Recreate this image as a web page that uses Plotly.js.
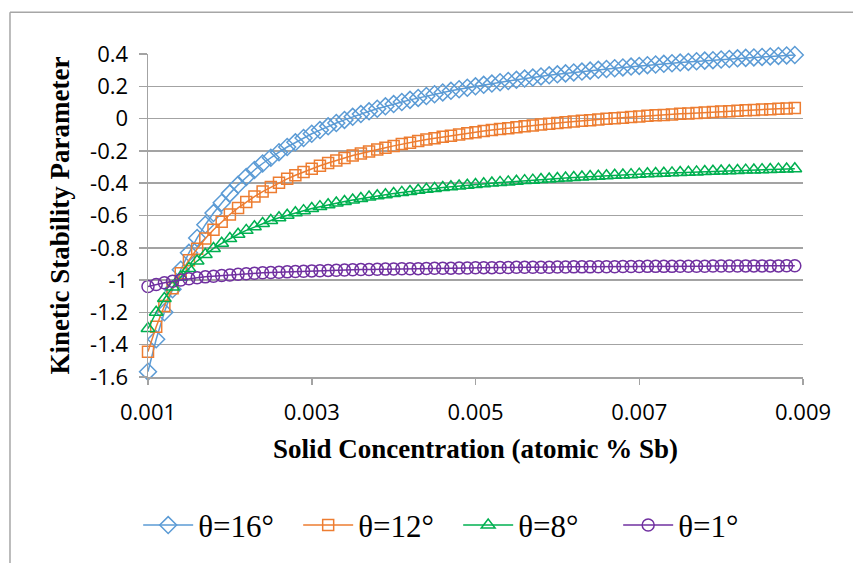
<!DOCTYPE html>
<html>
<head>
<meta charset="utf-8">
<script src="https://cdn.plot.ly/plotly-3.0.1.min.js"></script>
<style>
  html, body { margin: 0; padding: 0; background: #ffffff; }
  #chart { width: 853px; height: 563px; }
</style>
</head>
<body>
<div id="chart"></div>
<script>
// Solid concentration (atomic % Sb)
const concentration = [
  0.0010,0.0011,0.0012,0.0013,0.0014,0.0015,0.0016,0.0017,0.0018,0.0019,
  0.0020,0.0021,0.0022,0.0023,0.0024,0.0025,0.0026,0.0027,0.0028,0.0029,
  0.0030,0.0031,0.0032,0.0033,0.0034,0.0035,0.0036,0.0037,0.0038,0.0039,
  0.0040,0.0041,0.0042,0.0043,0.0044,0.0045,0.0046,0.0047,0.0048,0.0049,
  0.0050,0.0051,0.0052,0.0053,0.0054,0.0055,0.0056,0.0057,0.0058,0.0059,
  0.0060,0.0061,0.0062,0.0063,0.0064,0.0065,0.0066,0.0067,0.0068,0.0069,
  0.0070,0.0071,0.0072,0.0073,0.0074,0.0075,0.0076,0.0077,0.0078,0.0079,
  0.0080,0.0081,0.0082,0.0083,0.0084,0.0085,0.0086,0.0087,0.0088,0.0089
];

const theta16 = [
  -1.567,-1.366,-1.199,-1.057,-0.936,-0.831,-0.739,-0.657,-0.585,-0.521,
  -0.463,-0.410,-0.362,-0.318,-0.278,-0.242,-0.208,-0.176,-0.147,-0.120,
  -0.094,-0.071,-0.048,-0.027,-0.008,0.011,0.028,0.045,0.061,0.076,
  0.090,0.103,0.116,0.128,0.140,0.151,0.162,0.172,0.182,0.191,
  0.200,0.209,0.217,0.225,0.233,0.240,0.248,0.254,0.261,0.268,
  0.274,0.280,0.286,0.291,0.297,0.302,0.307,0.312,0.317,0.322,
  0.326,0.331,0.335,0.339,0.343,0.347,0.351,0.355,0.359,0.362,
  0.366,0.369,0.373,0.376,0.379,0.382,0.385,0.388,0.391,0.394
];

const theta12 = [
  -1.443,-1.289,-1.160,-1.051,-0.958,-0.877,-0.806,-0.743,-0.688,-0.638,
  -0.594,-0.553,-0.516,-0.483,-0.452,-0.424,-0.397,-0.373,-0.351,-0.330,
  -0.310,-0.292,-0.275,-0.259,-0.244,-0.229,-0.216,-0.203,-0.191,-0.180,
  -0.169,-0.158,-0.149,-0.139,-0.130,-0.122,-0.113,-0.106,-0.098,-0.091,
  -0.084,-0.077,-0.071,-0.065,-0.059,-0.053,-0.047,-0.042,-0.037,-0.032,
  -0.027,-0.023,-0.018,-0.014,-0.010,-0.005,-0.001,0.002,0.006,0.010,
  0.013,0.017,0.020,0.023,0.026,0.030,0.032,0.035,0.038,0.041,
  0.044,0.046,0.049,0.051,0.054,0.056,0.058,0.061,0.063,0.065
];

const theta8 = [
  -1.300,-1.199,-1.114,-1.043,-0.981,-0.928,-0.882,-0.841,-0.804,-0.772,
  -0.743,-0.716,-0.692,-0.670,-0.650,-0.631,-0.614,-0.598,-0.583,-0.570,
  -0.557,-0.545,-0.533,-0.523,-0.513,-0.504,-0.495,-0.486,-0.478,-0.471,
  -0.464,-0.457,-0.451,-0.444,-0.438,-0.433,-0.427,-0.422,-0.417,-0.413,
  -0.408,-0.404,-0.399,-0.395,-0.392,-0.388,-0.384,-0.381,-0.377,-0.374,
  -0.371,-0.368,-0.365,-0.362,-0.359,-0.357,-0.354,-0.351,-0.349,-0.347,
  -0.344,-0.342,-0.340,-0.338,-0.336,-0.334,-0.332,-0.330,-0.328,-0.326,
  -0.324,-0.323,-0.321,-0.319,-0.318,-0.316,-0.315,-0.313,-0.312,-0.310
];

const theta1 = [
  -1.040,-1.027,-1.016,-1.007,-0.999,-0.992,-0.986,-0.980,-0.976,-0.971,
  -0.968,-0.964,-0.961,-0.958,-0.955,-0.953,-0.951,-0.949,-0.947,-0.945,
  -0.943,-0.942,-0.940,-0.939,-0.938,-0.936,-0.935,-0.934,-0.933,-0.932,
  -0.931,-0.930,-0.930,-0.929,-0.928,-0.927,-0.927,-0.926,-0.925,-0.925,
  -0.924,-0.923,-0.923,-0.922,-0.922,-0.921,-0.921,-0.920,-0.920,-0.920,
  -0.919,-0.919,-0.918,-0.918,-0.918,-0.917,-0.917,-0.917,-0.916,-0.916,
  -0.916,-0.915,-0.915,-0.915,-0.915,-0.914,-0.914,-0.914,-0.914,-0.913,
  -0.913,-0.913,-0.913,-0.912,-0.912,-0.912,-0.912,-0.912,-0.911,-0.911
];

const seriesNames = ['θ=16°', 'θ=12°', 'θ=8°', 'θ=1°'];
const xTickVals = [0.001, 0.003, 0.005, 0.007, 0.009];
const xTickText = ['0.001', '0.003', '0.005', '0.007', '0.009'];
const yTickVals = [-1.6, -1.4, -1.2, -1.0, -0.8, -0.6, -0.4, -0.2, 0, 0.2, 0.4];
const yTickText = ['-1.6', '-1.4', '-1.2', '-1', '-0.8', '-0.6', '-0.4', '-0.2', '0', '0.2', '0.4'];

const colors = ['#5B9BD5', '#ED7D31', '#00B050', '#7030A0'];
const symbols = ['diamond-open', 'square-open', 'triangle-up-open', 'circle-open'];
const sizes = [13, 11, 12, 12];
const ys = [theta16, theta12, theta8, theta1];

const traces = ys.map((y, i) => ({
  type: 'scatter',
  mode: 'lines+markers',
  x: concentration,
  y: y,
  name: seriesNames[i],
  cliponaxis: false,
  line: { color: colors[i], width: 1.5 },
  marker: { symbol: symbols[i], size: sizes[i], color: colors[i], line: { color: colors[i], width: 1.5 } }
}));

const gridCol = '#a3a3a3';
const layout = {
  width: 853,
  height: 563,
  paper_bgcolor: '#ffffff',
  plot_bgcolor: '#ffffff',
  margin: { l: 148, r: 50, t: 54, b: 185 },
  showlegend: true,
  legend: {
    orientation: 'h',
    x: -0.015, xanchor: 'left',
    y: -0.455, yanchor: 'middle',
    entrywidth: 95,
    itemwidth: 50,
    font: { family: 'Liberation Serif, Times New Roman, serif', size: 31, color: '#000' },
    bgcolor: 'rgba(0,0,0,0)'
  },
  xaxis: {
    range: [0.001, 0.009],
    showgrid: false,
    zeroline: false,
    showline: true,
    linecolor: gridCol,
    linewidth: 1.5,
    ticks: 'outside',
    ticklen: 6,
    tickwidth: 1.5,
    tickcolor: gridCol,
    tickvals: xTickVals,
    ticktext: xTickText,
    ticklabelstandoff: 9,
    tickfont: { family: 'Open Sans, sans-serif', size: 22, color: '#000' },
    title: {
      text: 'Solid Concentration (atomic % Sb)',
      font: { family: 'Liberation Serif, Times New Roman, serif', size: 27, color: '#000', weight: 'bold' },
      standoff: 14
    }
  },
  yaxis: {
    range: [-1.6, 0.4],
    showgrid: true,
    gridcolor: gridCol,
    gridwidth: 1.5,
    zeroline: false,
    showline: true,
    linecolor: gridCol,
    linewidth: 1.5,
    ticks: 'outside',
    ticklen: 8,
    tickwidth: 1.5,
    tickcolor: gridCol,
    tickvals: yTickVals,
    ticktext: yTickText,
    ticklabelstandoff: 6,
    tickfont: { family: 'Open Sans, sans-serif', size: 22, color: '#000' },
    title: {
      text: 'Kinetic Stability Parameter',
      font: { family: 'Liberation Serif, Times New Roman, serif', size: 27, color: '#000', weight: 'bold' },
      standoff: 12
    }
  },
  shapes: [
    { type: 'line', xref: 'paper', yref: 'paper', x0: -0.2107, x1: 1.2, y0: 1.1296, y1: 1.1296, line: { color: '#a6a6a6', width: 1.5 } },
    { type: 'line', xref: 'paper', yref: 'paper', x0: -0.2107, x1: -0.2107, y0: 1.1296, y1: -0.6, line: { color: '#a6a6a6', width: 1.5 } }
  ]
};

Plotly.newPlot('chart', traces, layout, { displayModeBar: false, staticPlot: true });
</script>
</body>
</html>
